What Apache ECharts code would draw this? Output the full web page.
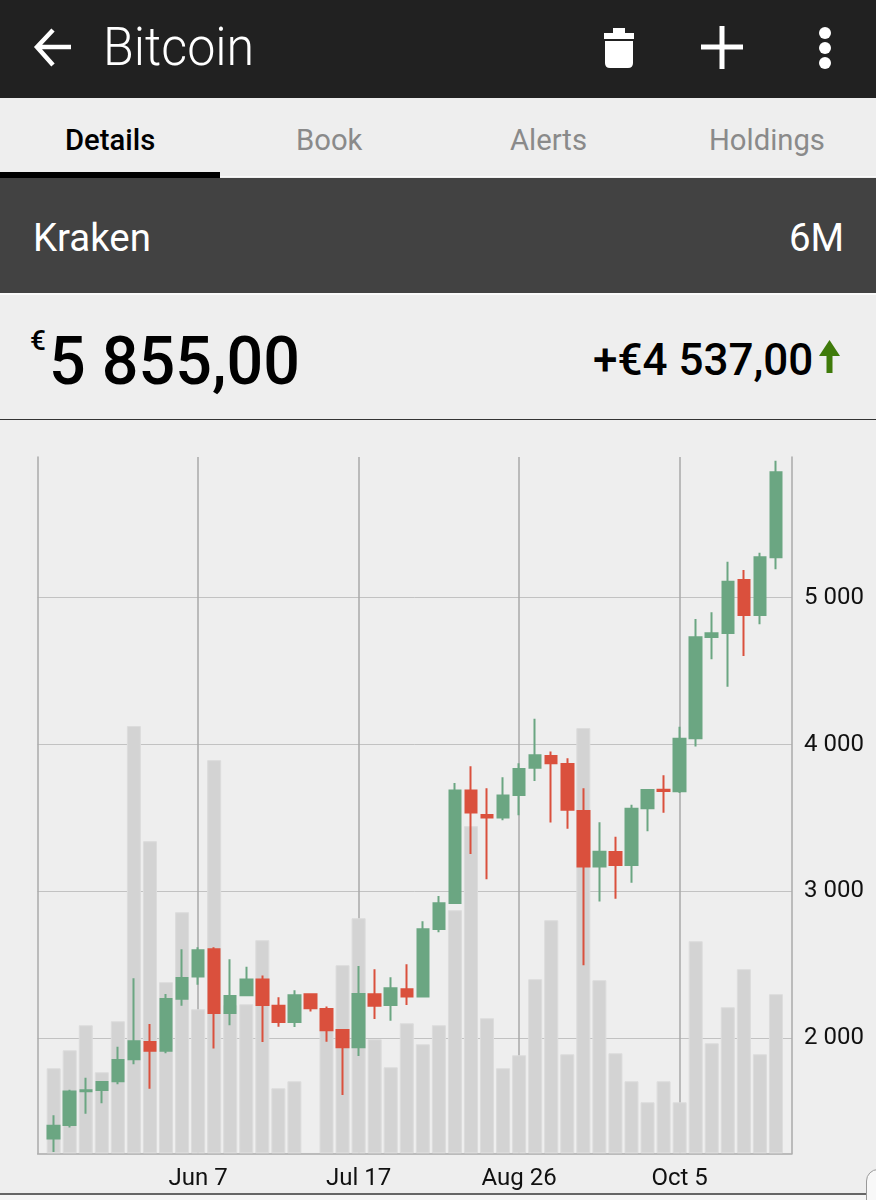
<!DOCTYPE html>
<html>
<head>
<meta charset="utf-8">
<script src="https://cdn.jsdelivr.net/npm/echarts@6/dist/echarts.min.js"></script>
<style>
html,body{margin:0;padding:0;background:#eee;width:876px;height:1200px;overflow:hidden;font-family:Roboto,sans-serif}
.b{position:absolute}
.t{position:absolute;white-space:nowrap;line-height:1;transform-origin:left top}
#chart{position:absolute;left:0;top:420px;width:876px;height:773px}
</style>
</head>
<body>
<div class="b" style="left:0;top:0;width:876px;height:98px;background:#212121"></div>
<svg class="b" style="left:0;top:0" width="876" height="98">
  <path d="M71 47H38M53 30L37 47L53 65" fill="none" stroke="#fff" stroke-width="4.5"/>
  <path d="M604 33H634V39H604ZM613 28H625V33H613Z" fill="#fff"/>
  <path d="M605 41H633V63Q633 68 628 68H610Q605 68 605 63Z" fill="#fff"/>
  <path d="M701 47H743M722 26V69" stroke="#fff" stroke-width="5" fill="none"/>
  <circle cx="825" cy="33" r="6" fill="#fff"/><circle cx="825" cy="48" r="6" fill="#fff"/><circle cx="825" cy="63" r="6" fill="#fff"/>
</svg>
<div class="t" style="left:103px;top:20px;font-size:54px;color:#fff;font-family:Roboto;font-weight:300;transform:scaleX(.93)">Bitcoin</div>

<div class="t" style="left:65px;top:125px;font-size:30px;font-weight:500;color:#000;transform:scaleX(.975)">Details</div>
<div class="t" style="left:296px;top:125px;font-size:30px;color:#8a8a8a;transform:scaleX(.975)">Book</div>
<div class="t" style="left:510px;top:125px;font-size:30px;color:#8a8a8a;transform:scaleX(.975)">Alerts</div>
<div class="t" style="left:709px;top:125px;font-size:30px;color:#8a8a8a;transform:scaleX(.975)">Holdings</div>
<div class="b" style="left:0;top:176px;width:876px;height:1px;background:#fafafa"></div>
<div class="b" style="left:0;top:172px;width:220px;height:6px;background:#000"></div>

<div class="b" style="left:0;top:178px;width:876px;height:115px;background:#424242"></div>
<div class="b" style="left:0;top:293px;width:876px;height:2px;background:#fafafa"></div>
<div class="t" style="left:33px;top:219px;font-size:39px;color:#fff;transform:scaleX(.985)">Kraken</div>
<div class="t" style="left:789px;top:219px;font-size:39px;color:#fff;transform:scaleX(.985)">6M</div>

<div class="t" style="left:30px;top:327px;font-size:28px;font-weight:500;color:#000">€</div>
<div class="t" style="left:49px;top:328px;font-size:67px;font-weight:500;color:#000;transform:scaleX(.965)">5 855,00</div>
<div class="t" style="left:593px;top:338px;font-size:44px;font-weight:500;color:#000">+€4 537,00</div>
<svg class="b" style="left:818px;top:340px" width="24" height="36"><path d="M11.5 0L22 16H14.5V33H8.5V16H1Z" fill="#3f7a0a"/></svg>
<div class="b" style="left:0;top:419px;width:876px;height:1px;background:#333"></div>

<div id="chart"></div>

<div class="b" style="left:0;top:1193px;width:876px;height:2px;background:#666"></div>
<div class="b" style="left:0;top:1195px;width:876px;height:5px;background:#f6f6f6"></div>
<div class="b" style="left:866px;top:1169px;width:20px;height:40px;background:#f8f8f8;border:1px solid #999;border-radius:12px 0 0 0"></div>

<script>
var categories = ['Apr 28','May 2','May 6','May 10','May 14','May 18','May 22','May 26','May 30','Jun 3','Jun 7','Jun 11','Jun 15','Jun 19','Jun 23','Jun 27','Jul 1','Jul 5','Jul 9','Jul 13','Jul 17','Jul 21','Jul 25','Jul 29','Aug 2','Aug 6','Aug 10','Aug 14','Aug 18','Aug 22','Aug 26','Aug 30','Sep 3','Sep 7','Sep 11','Sep 15','Sep 19','Sep 23','Sep 27','Oct 1','Oct 5','Oct 9','Oct 13','Oct 17','Oct 21','Oct 25','Oct 29','Nov 2'];
var xTickLabels = ['Jun 7','Jul 17','Aug 26','Oct 5'];
var yTickValues = [2000,3000,4000,5000];
var yTickLabels = ['2 000','3 000','4 000','5 000'];
// open, close, low, high
var candles = ['-',
[1318,1405,1226,1476],[1410,1637,1392,1650],[1640,1646,1487,1732],[1648,1703,1557,1707],[1707,1852,1687,1943],
[1857,1980,1823,2409],[1975,1916,1657,2098],[1916,2268,1898,2302],[2270,2411,2222,2606],[2420,2599,2365,2620],
[2606,2173,1930,2620],[2173,2288,2089,2538],[2293,2400,2293,2488],[2400,2227,1975,2427],[2222,2111,2079,2279],
[2111,2293,2077,2327],[2300,2204,2182,2306],[2200,2054,1977,2216],[2057,1939,1614,2064],[1939,2302,1880,2493],
[2300,2222,2132,2470],[2227,2341,2120,2415],[2334,2284,2227,2504],[2284,2742,2284,2797],[2745,2919,2722,2969],
[2922,3687,2915,3739],[3687,3537,3255,3852],[3521,3503,3083,3703],[3503,3653,3485,3777],[3657,3834,3519,3873],
[3843,3927,3752,4175],[3923,3873,3469,3952],[3868,3557,3426,3907],[3548,3169,2497,3703],[3169,3271,2931,3471],
[3268,3180,2951,3373],[3180,3563,3059,3591],[3566,3691,3409,3691],[3693,3684,3536,3791],[3682,4040,3670,4122],
[4043,4730,3986,4855],[4732,4758,4581,4901],[4760,5109,4394,5245],[5121,4883,4603,5189],[4883,5275,4819,5306],
[5275,5855,5193,5933],'-'];
var volumes = ['-',
85,103,128,81,132,427,312,171,241,144,393,148,149,213,65,72,'-',123,188,235,114,86,130,109,128,243,327,135,85,98,174,233,99,425,173,100,72,51,72,51,212,110,146,184,99,159,'-'];
var GREEN='#6ba682', RED='#da503d';

var chart = echarts.init(document.getElementById('chart'), null, {renderer:'canvas'});
chart.setOption({
  animation:false,
  backgroundColor:'#eeeeee',
  grid:{left:37.6,right:84,top:37,height:696.3},
  xAxis:{
    type:'category',data:categories,boundaryGap:false,
    axisLine:{show:true,lineStyle:{color:'#aaaaaa',width:1.5}},
    axisTick:{show:false},
    axisLabel:{show:true,interval:function(i,v){return xTickLabels.indexOf(v)>=0;},fontFamily:'Roboto',fontSize:24,color:'#111',margin:14,hideOverlap:false},
    splitLine:{show:true,interval:function(i,v){return xTickLabels.indexOf(v)>=0;},lineStyle:{color:'#a8a8a8',width:1.5}}
  },
  yAxis:[
    {type:'value',position:'right',min:1217,max:5958,scale:true,
     axisLine:{show:true,lineStyle:{color:'#aaaaaa',width:1.5}},
     axisTick:{show:false,customValues:yTickValues},
     axisLabel:{customValues:yTickValues,showMinLabel:true,showMaxLabel:true,margin:12,padding:[2,0,0,0],fontFamily:'Roboto',fontSize:24,color:'#111',
       formatter:function(v){return yTickLabels[yTickValues.indexOf(v)];}},
     splitLine:{show:true,lineStyle:{color:'#c2c2c2',width:1}}},
    {type:'value',position:'left',min:0,max:696,
     axisLine:{show:true,lineStyle:{color:'#aaaaaa',width:1.5}},
     axisTick:{show:false},axisLabel:{show:false},splitLine:{show:false}}
  ],
  series:[
    {type:'bar',yAxisIndex:1,data:volumes,barWidth:14,
     itemStyle:{color:'#d3d3d3',borderColor:'#dcdcdc',borderWidth:1},silent:true},
    {type:'candlestick',yAxisIndex:0,data:candles,barWidth:12,
     itemStyle:{color:GREEN,color0:RED,borderColor:GREEN,borderColor0:RED,borderWidth:2},silent:true}
  ]
});
</script>
</body>
</html>
